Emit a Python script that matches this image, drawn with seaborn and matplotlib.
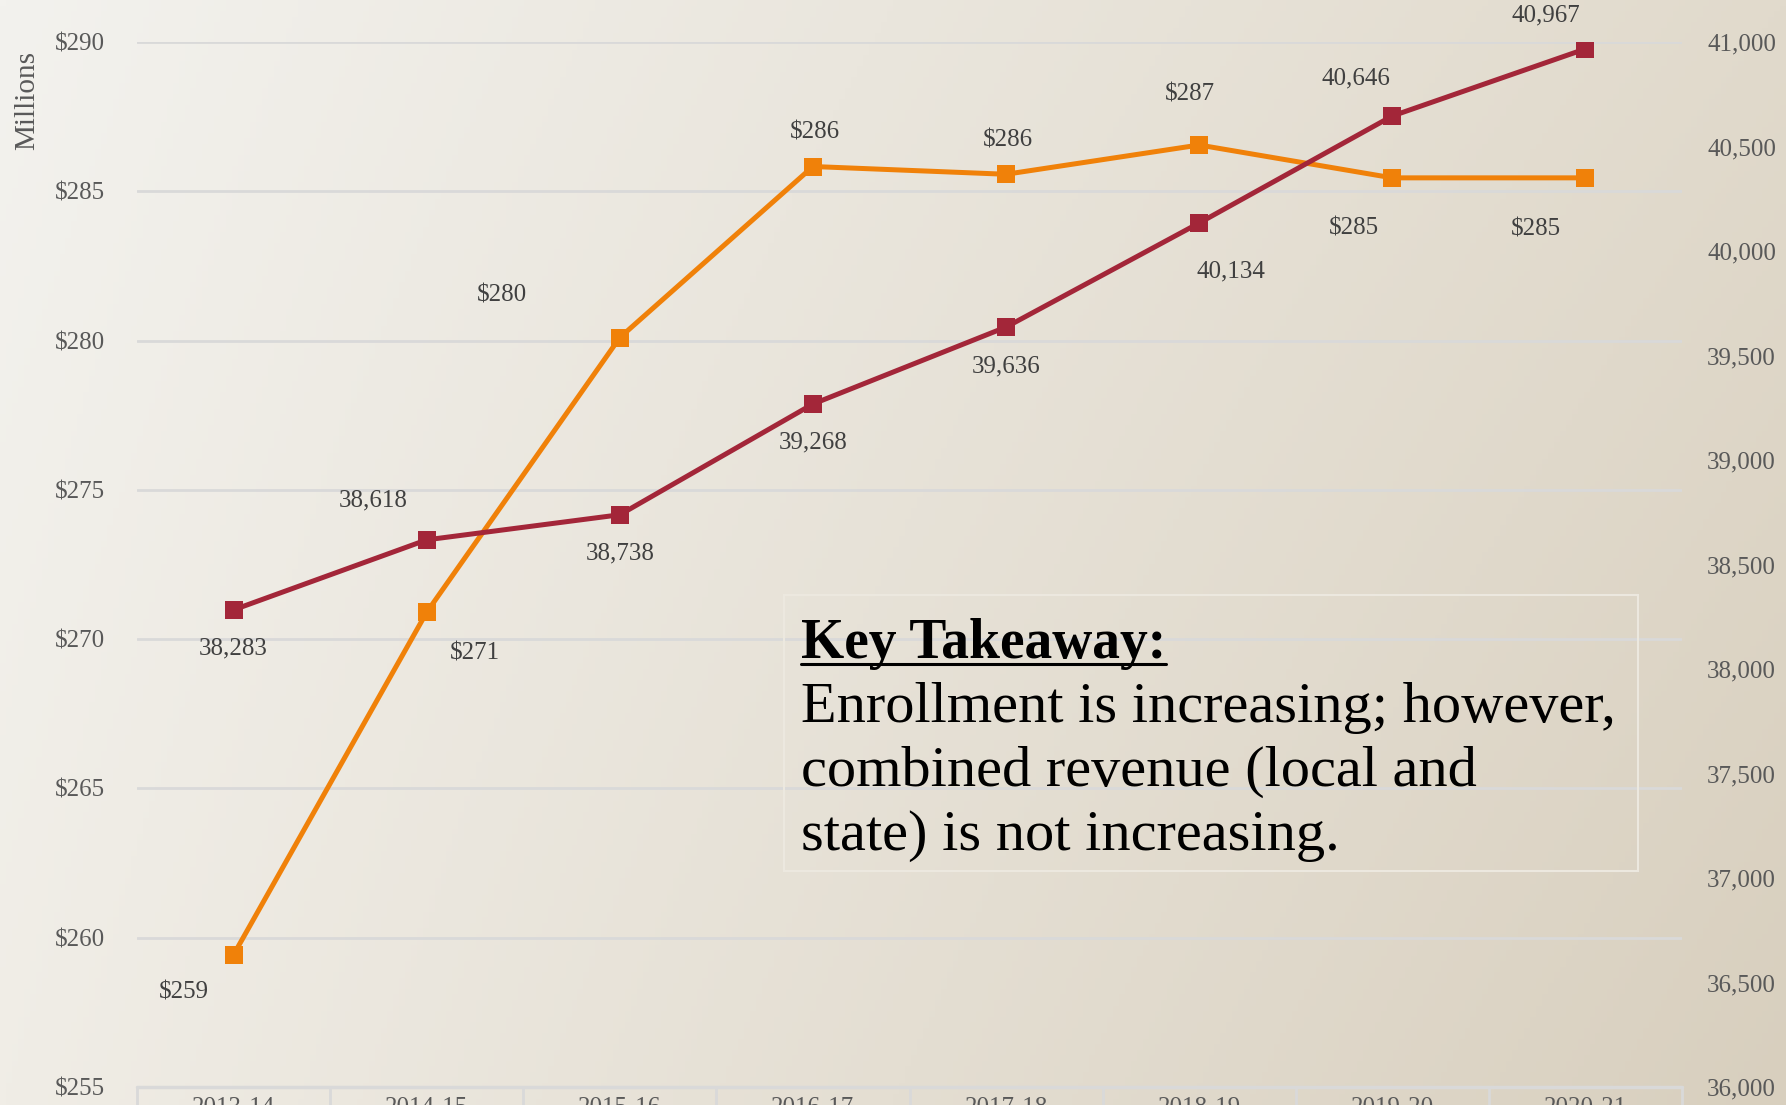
import numpy as np
import pandas as pd
import matplotlib
matplotlib.use("Agg")
import matplotlib.pyplot as plt
from matplotlib.lines import Line2D
from matplotlib.patches import Rectangle
import seaborn as sns

sns.set_style("white")
plt.rcParams['font.family'] = ['Liberation Serif', 'DejaVu Serif']

# data
years = ['2013-14', '2014-15', '2015-16', '2016-17', '2017-18', '2018-19', '2019-20', '2020-21']
revenue = [259.43, 270.9, 280.1, 285.83, 285.57, 286.55, 285.45, 285.45]
revenue_labels = ['$259', '$271', '$280', '$286', '$286', '$287', '$285', '$285']
enrollment = [38283, 38618, 38738, 39268, 39636, 40134, 40646, 40967]
enrollment_labels = ['38,283', '38,618', '38,738', '39,268', '39,636', '40,134', '40,646', '40,967']
left_ticks = [255, 260, 265, 270, 275, 280, 285, 290]
left_ticklabels = ['$255', '$260', '$265', '$270', '$275', '$280', '$285', '$290']
right_ticks = [36000, 36500, 37000, 37500, 38000, 38500, 39000, 39500, 40000, 40500, 41000]
right_ticklabels = ['36,000', '36,500', '37,000', '37,500', '38,000', '38,500',
                    '39,000', '39,500', '40,000', '40,500', '41,000']

df = pd.DataFrame({'pos': range(len(years)), 'year': years,
                   'revenue': revenue, 'enrollment': enrollment})

orange = '#f08109'
red = '#a32639'
tick_col = '#595959'
lab_col = '#404040'
grid_col = '#d9d9d9'

W, H = 1786, 1105
fig = plt.figure(figsize=(W / 100, H / 100), dpi=100)

# background gradient
bg = fig.add_axes([0, 0, 1, 1], zorder=0)
tl = np.array([243, 242, 238]) / 255
tr = np.array([225, 218, 204]) / 255
bl = np.array([240, 237, 230]) / 255
br = np.array([216, 207, 190]) / 255
u = np.linspace(0, 1, 300)[None, :, None]
v = np.linspace(0, 1, 200)[:, None, None]
img = (1 - v) * ((1 - u) * tl + u * tr) + v * ((1 - u) * bl + u * br)
bg.imshow(img, aspect='auto', extent=[0, 1, 0, 1], origin='upper')
bg.axis('off')

x0, x1, ytop, ybot = 137, 1682, 42, 1087
ax = fig.add_axes([x0 / W, (H - ybot) / H, (x1 - x0) / W, (ybot - ytop) / H], zorder=1)
ax.set_facecolor('none')
ax2 = ax.twinx()
ax2.set_facecolor('none')

sns.lineplot(data=df, x='pos', y='revenue', ax=ax, color=orange, marker='s',
             markersize=13, markeredgewidth=0, linewidth=3.6, zorder=5)
sns.lineplot(data=df, x='pos', y='enrollment', ax=ax2, color=red, marker='s',
             markersize=13, markeredgewidth=0, linewidth=3.6, zorder=5)

ax.set_xlim(-0.5, len(years) - 0.5)
ax.set_ylim(255, 290)
ax2.set_ylim(36000, 41000)

ax.set_yticks(left_ticks)
ax.set_yticklabels(left_ticklabels)
ax2.set_yticks(right_ticks)
ax2.set_yticklabels(right_ticklabels)
ax.set_xticks(df['pos'])
ax.set_xticklabels(years)
ax.tick_params(axis='y', length=0, pad=23, labelsize=18, labelcolor=tick_col)
ax2.tick_params(axis='y', length=0, pad=18, labelsize=18, labelcolor=tick_col)
ax.tick_params(axis='x', length=0, pad=7, labelsize=18, labelcolor=tick_col)
ax.set_xlabel('')
ax.set_ylabel('')
ax2.set_ylabel('')

for a in (ax, ax2):
    for s in a.spines.values():
        s.set_visible(False)

for t in left_ticks[1:]:
    ax.axhline(t, color=grid_col, linewidth=2, zorder=0)

# category table at the bottom
ax.axhline(255, color=grid_col, linewidth=2.5, zorder=0, clip_on=False)
for b in np.arange(-0.5, len(years), 1.0):
    ax.plot([b, b], [255, 253], color=grid_col, linewidth=2, clip_on=False,
            transform=ax.transData, zorder=0)

fig.text(27 / W, 1 - 100 / H, 'Millions', rotation=90, ha='center', va='center',
         fontsize=21, color=tick_col)

rev_off = [(-50, -38), (48, -41), (-118, 42), (2, 34), (2, 34), (-9, 51), (-38, -51), (-49, -52)]
enr_off = [(0, -39), (-54, 39), (0, -39), (0, -38), (0, -39), (32, -48), (-36, 38), (-40, 33)]
for i in range(len(years)):
    ax.annotate(revenue_labels[i], (i, revenue[i]), xytext=rev_off[i],
                textcoords='offset pixels', ha='center', va='center',
                fontsize=18, color=lab_col, annotation_clip=False)
    ax2.annotate(enrollment_labels[i], (i, enrollment[i]), xytext=enr_off[i],
                 textcoords='offset pixels', ha='center', va='center',
                 fontsize=18, color=lab_col, annotation_clip=False)

# takeaway box
fig.patches.append(Rectangle((784 / W, 1 - 871 / H), (1638 - 784) / W, (871 - 595) / H,
                             transform=fig.transFigure, fill=False,
                             edgecolor='#ece8df', linewidth=1.5, zorder=3))
kt = fig.text(801 / W, 1 - 658 / H, 'Key Takeaway:', fontsize=40, fontweight='bold',
              color='black', ha='left', va='baseline', zorder=4)
body = ['Enrollment is increasing; however,', 'combined revenue (local and',
        'state) is not increasing.']
for k, line in enumerate(body):
    fig.text(801 / W, 1 - (722 + 64 * k) / H, line, fontsize=42, color='black',
             ha='left', va='baseline', zorder=4)

fig.canvas.draw()
bb = kt.get_window_extent()
uy = (H - 658 - 6) / H
fig.lines.append(Line2D([bb.x0 / W, bb.x1 / W], [uy, uy], transform=fig.transFigure,
                        color='black', linewidth=2.2, zorder=4))

fig.savefig('out.png', dpi=100)
